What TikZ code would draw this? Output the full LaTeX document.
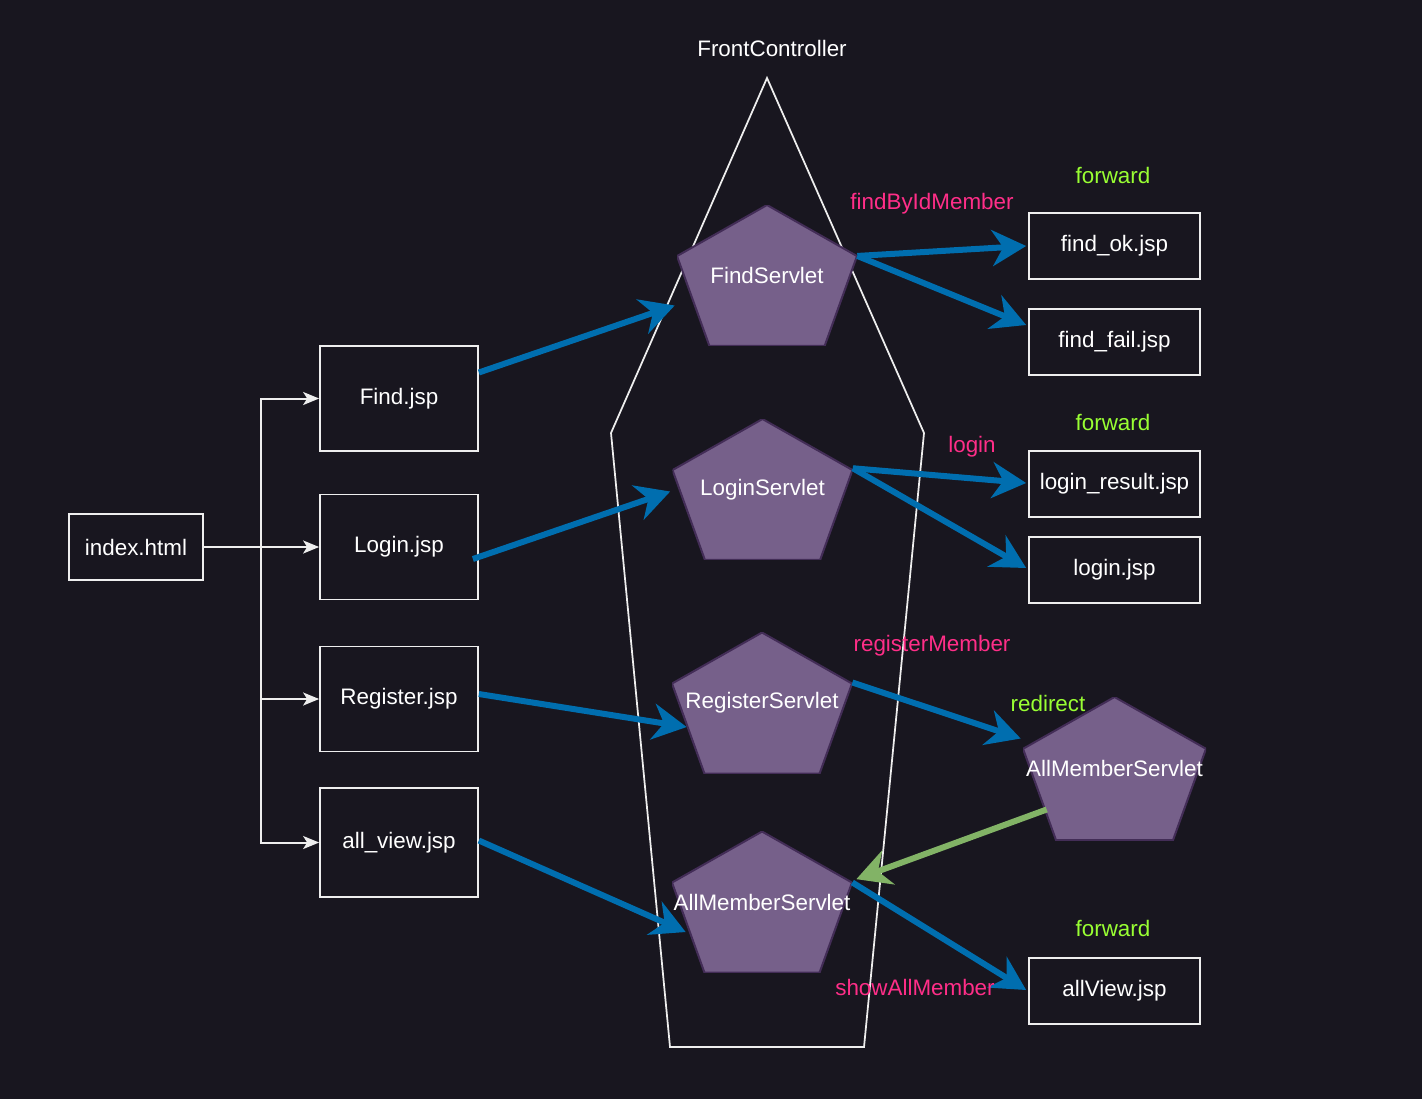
\documentclass[tikz,border=0pt]{standalone}
\usepackage{fontspec}
\setmainfont{Liberation Sans}
\usetikzlibrary{arrows.meta,calc}

\definecolor{bg}{HTML}{18161F}
\definecolor{boxline}{HTML}{EEEEEE}
\definecolor{pentfill}{HTML}{76608A}
\definecolor{pentline}{HTML}{432D57}
\definecolor{callblue}{HTML}{006EAF}
\definecolor{backgreen}{HTML}{82B366}
\definecolor{methodpink}{HTML}{FF2E88}
\definecolor{kindgreen}{HTML}{99FF33}

\begin{document}
\begin{tikzpicture}[x=0.02cm, y=-0.02cm,
    every node/.style={font=\fontsize{12.75}{15}\selectfont, text=white, inner sep=0pt},
    jsp/.style={rectangle, draw=boxline, line width=0.035cm, minimum width=3.16cm, minimum height=2.1cm},
    page/.style={rectangle, draw=boxline, line width=0.035cm, minimum width=3.42cm, minimum height=1.32cm},
    servlet/.style={minimum width=3.6cm, minimum height=2.82cm,
      path picture={
        \filldraw[fill=pentfill, draw=pentline, line width=0.04cm]
          (path picture bounding box.north)
          -- ($(path picture bounding box.north east)!0.362!(path picture bounding box.south east)$)
          -- ($(path picture bounding box.south east)!0.18!(path picture bounding box.south west)$)
          -- ($(path picture bounding box.south west)!0.18!(path picture bounding box.south east)$)
          -- ($(path picture bounding box.north west)!0.362!(path picture bounding box.south west)$)
          -- cycle;}},
    link/.style={draw=boxline, line width=0.04cm, -{Stealth[length=0.32cm, width=0.26cm, inset=0.08cm]}},
    call/.style={draw=callblue, line width=0.12cm, -{Stealth[length=0.68cm, width=0.72cm, inset=0.22cm]}},
    back/.style={draw=backgreen, line width=0.12cm, -{Stealth[length=0.68cm, width=0.72cm, inset=0.22cm]}},
    method/.style={text=methodpink},
    kind/.style={text=kindgreen}]

  \useasboundingbox[fill=bg] (0,0) rectangle (1422,1099);

  % front controller outline
  \node (fc) at (772,48) {FrontController};
  \draw[boxline, line width=0.035cm] (767,78) -- (924,433) -- (864,1047) -- (670,1047) -- (611,433) -- cycle;

  % pages on the left
  \node[jsp, minimum width=2.68cm, minimum height=1.32cm] (index) at (136,547) {index.html};
  \node[jsp] (findjsp) at (399,398.5) {Find.jsp};
  \node[jsp] (loginjsp) at (399,547) {Login.jsp};
  \node[jsp] (regjsp) at (399,699) {Register.jsp};
  \node[jsp, minimum height=2.18cm] (alljsp) at (399,842.5) {all\_view.jsp};

  \coordinate (trunk) at (261,547);
  \draw[boxline, line width=0.04cm] (index.east) -- (trunk);
  \draw[link] (trunk) |- (findjsp.west);
  \draw[link] (trunk) -- (loginjsp.west);
  \draw[link] (trunk) |- (regjsp.west);
  \draw[link] (trunk) |- (alljsp.west);

  % servlets
  \node[servlet] (findsv) at (767,275.5) {FindServlet};
  \node[servlet] (loginsv) at (762.5,489.5) {LoginServlet};
  \node[servlet] (regsv) at (762,703) {RegisterServlet};
  \node[servlet] (amsl) at (762,902) {\makebox[0pt]{AllMemberServlet}};
  \node[servlet, minimum width=3.66cm, minimum height=2.86cm] (amsr) at (1114.5,768.5) {\makebox[0pt]{AllMemberServlet}};

  % result pages
  \node[page] (findok) at (1114.5,246) {find\_ok.jsp};
  \node[page] (findfail) at (1114.5,342) {find\_fail.jsp};
  \node[page] (loginres) at (1114.5,484) {login\_result.jsp};
  \node[page] (loginpage) at (1114.5,570) {login.jsp};
  \node[page] (allview) at (1114.5,991) {allView.jsp};

  % requests into the controller
  \draw[call] ($(findjsp.east)+(0,-26)$) -- ($(findsv.west)+(-2,30)$);
  \draw[call] ($(loginjsp.east)+(-6,12)$) -- ($(loginsv.west)+(-2,2)$);
  \draw[call] ($(regjsp.east)+(0,-5)$) -- ($(regsv.west)+(15,24)$);
  \draw[call] ($(alljsp.east)+(0,-2)$) -- ($(amsl.west)+(14,30)$);

  % forwards and redirect
  \coordinate (findv) at ($(findsv.north east)!0.362!(findsv.south east)$);
  \coordinate (loginv) at ($(loginsv.north east)!0.35!(loginsv.south east)$);
  \coordinate (regv) at ($(regsv.north east)!0.355!(regsv.south east)$);
  \coordinate (amsv) at ($(amsl.north east)!0.362!(amsl.south east)$);
  \draw[call] (findv) -- ($(findok.west)+(-2,0)$);
  \draw[call] (findv) -- ($(findfail.west)+(-2,-17)$);
  \draw[call] (loginv) -- ($(loginres.west)+(-2,-1)$);
  \draw[call] (loginv) -- ($(loginpage.west)+(-2,-2)$);
  \draw[call] (regv) -- ($(amsr.west)+(-2,-30)$);
  \draw[call] (amsv) -- ($(allview.west)+(-2,-1)$);
  \draw[back] ($(amsr.west)+(24,41)$) -- ($(amsl.north east)+(4,48)$);

  % labels
  \node[method] (l1) at (932,204) {findByIdMember};
  \node[method] (l2) at (972,447) {login};
  \node[method] (l3) at (932,646) {registerMember};
  \node[method] (l4) at (915,987) {showAllMember};
  \node[kind] (k1) at (1113,175) {forward};
  \node[kind] (k2) at (1113,422) {forward};
  \node[kind] (k3) at (1048,703) {redirect};
  \node[kind] (k4) at (1113,928) {forward};

\end{tikzpicture}
\end{document}
